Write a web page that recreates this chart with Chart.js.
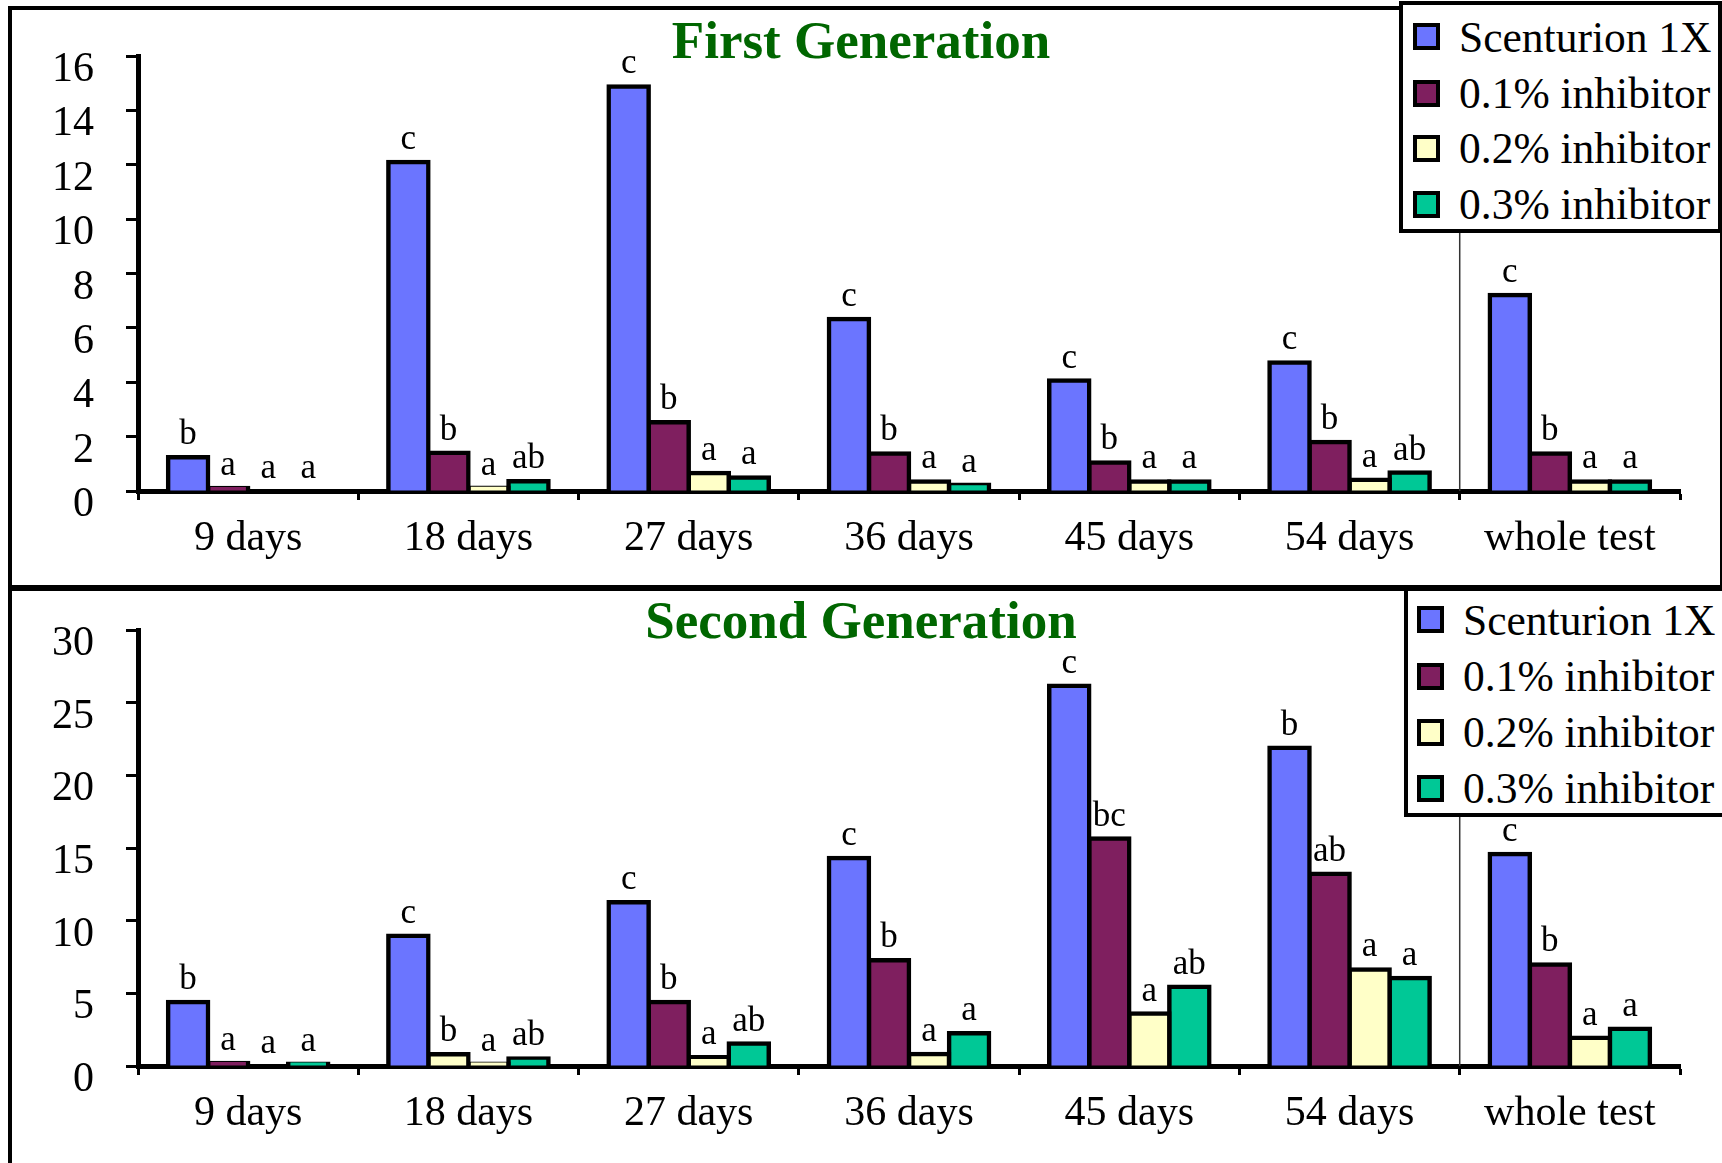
<!DOCTYPE html>
<html>
<head>
<meta charset="utf-8">
<script src="https://cdn.jsdelivr.net/npm/chart.js@4.4.1/dist/chart.umd.min.js"></script>
<style>
  html, body { margin: 0; padding: 0; background: #fff; }
  body { width: 1722px; height: 1163px; position: relative; overflow: hidden; font-family: "Liberation Serif", "Times New Roman", serif; }
  .abs { position: absolute; }
  canvas { position: absolute; left: 0; }
  .title { position: absolute; left: 0; width: 1722px; text-align: center; font: bold 53px/53px "Liberation Serif", serif; color: #006600; }
  .legend { position: absolute; box-sizing: border-box; border: 4px solid #000; background: #fff; }
  .row { position: absolute; display: flex; align-items: center; height: 44px; font: 43.5px/44px "Liberation Serif", serif; color: #000; white-space: nowrap; }
  .sw { box-sizing: border-box; width: 27px; height: 27px; border: 4px solid #000; margin-right: 19px; }
</style>
</head>
<body>
<div class="abs" style="left:8px;top:6px;width:1714px;height:581px;box-sizing:border-box;border-left:4px solid #000;border-top:4px solid #000;border-right:2px solid #000;border-bottom:2px solid #000;"></div>
<div class="abs" style="left:8px;top:587px;width:1714px;height:600px;box-sizing:border-box;border-left:4px solid #000;border-top:4px solid #000;"></div>

<canvas id="c1" width="1722" height="588" style="top:0px;width:1722px;height:588px;"></canvas>
<canvas id="c2" width="1722" height="575" style="top:588px;width:1722px;height:575px;"></canvas>

<div class="title" style="top:14px;">First Generation</div>
<div class="title" style="top:594px;">Second Generation</div>

<div id="leg1" class="legend" style="left:1399px;top:1px;width:323px;height:232px;"></div>
<div id="leg2" class="legend" style="left:1404px;top:587px;width:330px;height:230px;"></div>

<script>
// ---------- data ----------
const categories = ['9 days', '18 days', '27 days', '36 days', '45 days', '54 days', 'whole test'];
const seriesNames = ['Scenturion 1X', '0.1% inhibitor', '0.2% inhibitor', '0.3% inhibitor'];

// First Generation
const gen1Scenturion = [1.24, 12.1, 14.88, 6.33, 4.06, 4.73, 7.21];
const gen1Inhib01   = [0.11, 1.41, 2.53, 1.38, 1.05, 1.80, 1.38];
const gen1Inhib02   = [0, 0.12, 0.66, 0.35, 0.35, 0.41, 0.35];
const gen1Inhib03   = [0, 0.36, 0.50, 0.23, 0.35, 0.68, 0.35];
const gen1Letters = [
  ['b', 'c', 'c', 'c', 'c', 'c', 'c'],
  ['a', 'b', 'b', 'b', 'b', 'b', 'b'],
  ['a', 'a', 'a', 'a', 'a', 'a', 'a'],
  ['a', 'ab', 'a', 'a', 'a', 'ab', 'a']
];
const gen1Ticks = { min: 0, max: 16, step: 2 };

// Second Generation
const gen2Scenturion = [4.41, 8.97, 11.27, 14.32, 26.16, 21.9, 14.58];
const gen2Inhib01   = [0.2, 0.80, 4.41, 7.28, 15.65, 13.22, 6.99];
const gen2Inhib02   = [0, 0.15, 0.61, 0.82, 3.61, 6.64, 1.95];
const gen2Inhib03   = [0.15, 0.52, 1.54, 2.25, 5.46, 6.05, 2.56];
const gen2Letters = [
  ['b', 'c', 'c', 'c', 'c', 'b', 'c'],
  ['a', 'b', 'b', 'b', 'bc', 'ab', 'b'],
  ['a', 'a', 'a', 'a', 'a', 'a', 'a'],
  ['a', 'ab', 'ab', 'a', 'ab', 'a', 'a']
];
const gen2Ticks = { min: 0, max: 30, step: 5 };

// ---------- style ----------
const colors = ['#6B75FF', '#7F1F5F', '#FFFFC8', '#00C896'];
const FONT = '"Liberation Serif", "Times New Roman", serif';

const lettersPlugin = {
  id: 'letters',
  afterDatasetsDraw(chart, args, opts) {
    const ctx = chart.ctx;
    ctx.save();
    ctx.font = '35px ' + FONT;
    ctx.fillStyle = '#000';
    ctx.textAlign = 'center';
    ctx.textBaseline = 'alphabetic';
    (opts.letters || []).forEach((arr, di) => {
      const meta = chart.getDatasetMeta(di);
      arr.forEach((t, i) => {
        const el = meta.data[i];
        ctx.fillText(t, el.x, el.y - 13);
      });
    });
    ctx.restore();
  }
};

const sepPlugin = {
  id: 'sep',
  beforeDatasetsDraw(chart) {
    const xs = chart.scales.x;
    const px = (xs.getPixelForTick(5) + xs.getPixelForTick(6)) / 2;
    const ctx = chart.ctx;
    ctx.save();
    ctx.strokeStyle = '#333';
    ctx.lineWidth = 1.5;
    ctx.beginPath();
    ctx.moveTo(px, chart.chartArea.top);
    ctx.lineTo(px, chart.chartArea.bottom);
    ctx.stroke();
    ctx.restore();
  }
};

function makeChart(id, values, letters, tk, padTop, xHeight, colorFn) {
  const datasets = values.map((v, i) => ({
    label: seriesNames[i],
    data: v,
    backgroundColor: colorFn ? colorFn(i) : colors[i],
    borderColor: '#000',
    borderWidth: 4.5,
    borderSkipped: 'start',
    inflateAmount: 2.25,
    categoryPercentage: 0.727,
    barPercentage: 1.0
  }));
  return new Chart(document.getElementById(id), {
    type: 'bar',
    data: { labels: categories, datasets },
    options: {
      responsive: false,
      animation: false,
      devicePixelRatio: 1,
      layout: { padding: { left: 0, right: 42, top: padTop, bottom: 0 } },
      plugins: {
        legend: { display: false },
        tooltip: { enabled: false },
        letters: { letters }
      },
      scales: {
        x: {
          offset: true,
          z: 1,
          grid: { display: true, offset: true, drawOnChartArea: false, drawTicks: true, tickLength: 9, tickWidth: 3, tickColor: '#000' },
          border: { display: true, color: '#000', width: 5 },
          ticks: { font: { family: FONT, size: 42 }, color: '#000', padding: 14, maxRotation: 0, autoSkip: false },
          afterFit: s => { s.height = xHeight; s.paddingLeft = 0; s.paddingRight = 0; }
        },
        y: {
          min: tk.min, max: tk.max,
          grid: { display: true, drawOnChartArea: false, drawTicks: true, tickLength: 12, tickWidth: 3, tickColor: '#000' },
          border: { display: true, color: '#000', width: 5 },
          ticks: { stepSize: tk.step, font: { family: FONT, size: 42 }, color: '#000', padding: 32, labelOffset: 14 },
          afterFit: s => { s.width = 138; s.paddingTop = 0; s.paddingBottom = 0; }
        }
      }
    },
    plugins: [sepPlugin, lettersPlugin]
  });
}

makeChart('c1', [gen1Scenturion, gen1Inhib01, gen1Inhib02, gen1Inhib03], gen1Letters, gen1Ticks, 56, 97, null);
makeChart('c2', [gen2Scenturion, gen2Inhib01, gen2Inhib02, gen2Inhib03], gen2Letters, gen2Ticks, 42, 97,
  i => i === 1 ? (c => c.dataIndex === 1 ? colors[2] : colors[1]) : colors[i]);

// ---------- legends ----------
function buildLegend(id, rowTops, swLeft) {
  const box = document.getElementById(id);
  seriesNames.forEach((name, i) => {
    const row = document.createElement('div');
    row.className = 'row';
    row.style.top = (rowTops[i] - 4 - 22) + 'px';
    row.style.left = (swLeft - 4) + 'px';
    const sw = document.createElement('span');
    sw.className = 'sw';
    sw.style.background = colors[i];
    const tx = document.createElement('span');
    tx.textContent = name;
    row.appendChild(sw);
    row.appendChild(tx);
    box.appendChild(row);
  });
}
buildLegend('leg1', [35.5, 92, 147, 203], 14);
buildLegend('leg2', [32.5, 89, 145, 201], 13);
</script>
</body>
</html>
